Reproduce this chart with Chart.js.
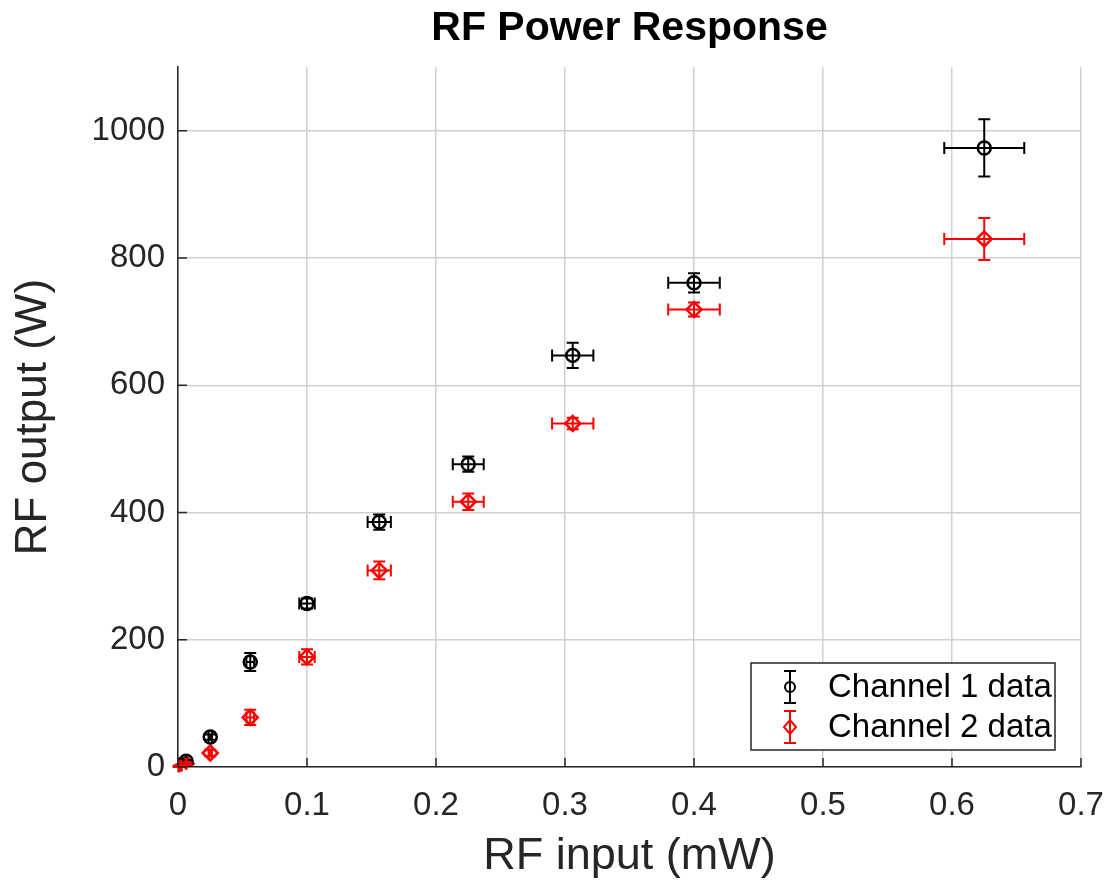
<!DOCTYPE html>
<html>
<head>
<meta charset="utf-8">
<script src="https://cdn.jsdelivr.net/npm/chart.js@4"></script>
<style>
  body { margin: 0; background: #fff; }
</style>
</head>
<body>
<canvas id="canvas" width="1112" height="888"></canvas>
<script>

// RF input (mW), same for both channels
let rfInput = [0.0006, 0.0025, 0.0063, 0.025, 0.056, 0.1, 0.156, 0.225, 0.306, 0.4, 0.625];
let inputErr = [0.0001, 0.0002, 0.0004, 0.0013, 0.003, 0.006, 0.009, 0.012, 0.016, 0.02, 0.031];

// RF output (W)
let ch1Out = [1, 3, 9, 47, 165, 257, 385, 476, 647, 761, 973];
let ch1Err = [1, 1, 2, 4, 14, 8, 12, 12, 20, 15, 45];
let ch2Out = [1, 2, 5, 22, 78, 173, 309, 417, 540, 719, 830];
let ch2Err = [1, 1, 2, 5, 12, 12, 14, 13, 9, 11, 33];

let xTicksMax = 0.7;
let yTicksMax = 1100;

Chart.defaults.font.family = "'Liberation Sans', Arial, sans-serif";
Chart.defaults.color = '#262626';

function points(ys, yErr){
    let out = [];
    for(let i = 0;i<rfInput.length;i++){
        out.push({x: rfInput[i], y: ys[i], xErr: inputErr[i], yErr: yErr[i]});
    }
    return out;
}

// error bars + inward ticks (matlab style)
let errorBars = {
    id: 'errorBars',
    afterDatasetsDraw(chart){
        let ctx = chart.ctx;
        let xs = chart.scales.x, ys = chart.scales.y;
        let cap = 6;
        chart.data.datasets.forEach(function(ds){
            ctx.save();
            ctx.strokeStyle = ds.borderColor;
            ctx.lineWidth = 2;
            ds.data.forEach(function(p){
                let cx = xs.getPixelForValue(p.x);
                let cy = ys.getPixelForValue(p.y);
                let l = xs.getPixelForValue(p.x - p.xErr);
                let r = xs.getPixelForValue(p.x + p.xErr);
                let t = ys.getPixelForValue(p.y + p.yErr);
                let b = ys.getPixelForValue(p.y - p.yErr);
                ctx.beginPath();
                ctx.moveTo(l, cy); ctx.lineTo(r, cy);
                ctx.moveTo(l, cy - cap); ctx.lineTo(l, cy + cap);
                ctx.moveTo(r, cy - cap); ctx.lineTo(r, cy + cap);
                ctx.moveTo(cx, t); ctx.lineTo(cx, b);
                ctx.moveTo(cx - cap, t); ctx.lineTo(cx + cap, t);
                ctx.moveTo(cx - cap, b); ctx.lineTo(cx + cap, b);
                ctx.stroke();
            });
            ctx.restore();
        });
    },
    afterDraw(chart){
        let ctx = chart.ctx;
        let a = chart.chartArea;
        ctx.save();
        ctx.strokeStyle = '#262626';
        ctx.lineWidth = 1.5;
        ctx.beginPath();
        chart.scales.x.ticks.forEach(function(t){
            let px = chart.scales.x.getPixelForValue(t.value);
            ctx.moveTo(px, a.bottom); ctx.lineTo(px, a.bottom - 9);
        });
        chart.scales.y.ticks.forEach(function(t){
            let py = chart.scales.y.getPixelForValue(t.value);
            ctx.moveTo(a.left, py); ctx.lineTo(a.left + 9, py);
        });
        ctx.stroke();

        // legend box, lower right inside the axes
        let bw = 304, bh = 87;
        let bx = a.right - 26 - bw, by = a.bottom - 17 - bh;
        ctx.fillStyle = '#fff';
        ctx.fillRect(bx, by, bw, bh);
        ctx.strokeRect(bx, by, bw, bh);
        ctx.font = "33px 'Liberation Sans', Arial, sans-serif";
        ctx.textBaseline = 'middle';
        chart.data.datasets.forEach(function(ds, i){
            let cy = by + 24 + i * 40;
            let mx = bx + 39;
            ctx.strokeStyle = ds.borderColor;
            ctx.lineWidth = 2;
            ctx.beginPath();
            ctx.moveTo(mx, cy - 16); ctx.lineTo(mx, cy + 16);
            ctx.moveTo(mx - 6, cy - 16); ctx.lineTo(mx + 6, cy - 16);
            ctx.moveTo(mx - 6, cy + 16); ctx.lineTo(mx + 6, cy + 16);
            ctx.stroke();
            ctx.beginPath();
            if(ds.pointStyle === 'circle'){
                ctx.arc(mx, cy, 5, 0, Math.PI * 2);
            } else {
                ctx.moveTo(mx, cy - 7); ctx.lineTo(mx + 6, cy);
                ctx.lineTo(mx, cy + 7); ctx.lineTo(mx - 6, cy); ctx.closePath();
            }
            ctx.stroke();
            ctx.fillStyle = '#000';
            ctx.textAlign = 'left';
            ctx.fillText(ds.label, bx + 77, cy + 1);
        });
        ctx.restore();
    }
};

let options = {
    type: 'scatter',
    data: {
        datasets: [{
            label: 'Channel 1 data',
            data: points(ch1Out, ch1Err),
            pointStyle: 'circle',
            pointRadius: 6.5,
            pointHoverRadius: 6.5,
            borderWidth: 2.5,
            borderColor: '#000000',
            backgroundColor: 'rgba(0,0,0,0)'
        }, {
            label: 'Channel 2 data',
            data: points(ch2Out, ch2Err),
            pointStyle: 'rectRot',
            pointRadius: 7.5,
            pointHoverRadius: 7.5,
            borderWidth: 2.5,
            borderColor: '#ff0000',
            backgroundColor: 'rgba(0,0,0,0)'
        }]
    },
    options: {
        responsive: false,
        animation: false,
        events: [],
        layout: { padding: { left: 0, right: 31, top: 0, bottom: 0 } },
        plugins: {
            legend: { display: false },
            tooltip: { enabled: false },
            title: {
                display: true,
                fullSize: false,
                text: 'RF Power Response',
                color: '#000',
                font: { size: 41, weight: 'bold' },
                padding: { top: 4, bottom: 14 }
            }
        },
        scales: {
            x: {
                type: 'linear',
                min: 0,
                max: xTicksMax,
                afterFit(s){ s.height = 121; s.paddingLeft = 0; s.paddingRight = 0; },
                ticks: { stepSize: 0.1, padding: 19, color: '#262626', font: { size: 33 } },
                grid: { color: '#d0d0d0', lineWidth: 1.5, drawTicks: false },
                border: { color: '#262626', width: 1.5 },
                title: { display: true, text: 'RF input (mW)', color: '#262626', font: { size: 45 }, padding: { top: 0, bottom: 4 } }
            },
            y: {
                type: 'linear',
                min: 0,
                max: yTicksMax,
                afterFit(s){ s.width = 178; s.paddingTop = 0; s.paddingBottom = 0; },
                afterBuildTicks(s){ s.ticks = s.ticks.filter(function(t){ return t.value <= 1000; }); },
                ticks: { stepSize: 200, padding: 13, color: '#262626', font: { size: 33 }, callback: function(v){ return String(v); } },
                grid: { color: '#d0d0d0', lineWidth: 1.5, drawTicks: false },
                border: { color: '#262626', width: 1.5 },
                title: { display: true, text: 'RF output (W)', color: '#262626', font: { size: 44 }, padding: { top: 7, bottom: 0 } }
            }
        }
    },
    plugins: [errorBars]
};

let chart = new Chart(document.getElementById('canvas'), options);

</script>
</body>
</html>
